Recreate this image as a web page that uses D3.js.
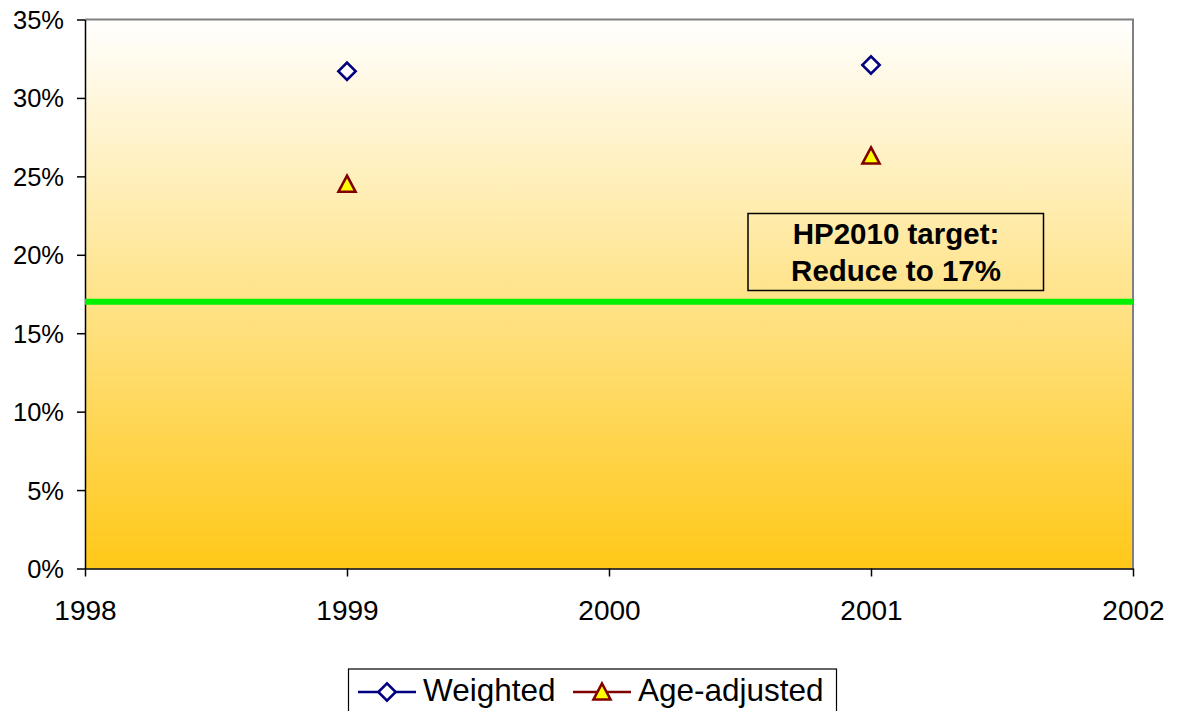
<!DOCTYPE html>
<html><head><meta charset="utf-8">
<script src="https://cdn.jsdelivr.net/npm/d3@7"></script>
<style>body{margin:0;background:#fff;}svg{display:block;font-family:"Liberation Sans",Arial,sans-serif;}</style>
</head><body>
<svg id="c" width="1178" height="711"></svg>
<script>
const years = [1999, 2001];
const weighted = [0.317, 0.321];
const ageAdjusted = [0.245, 0.263];
const target = 0.17;
const xTicks = [1998, 1999, 2000, 2001, 2002];
const yTicks = [0, 0.05, 0.10, 0.15, 0.20, 0.25, 0.30, 0.35];
const seriesNames = ["Weighted", "Age-adjusted"];
const annotationLines = ["HP2010 target:", "Reduce to 17%"];

const svg = d3.select("#c");
const L = 85, R = 1133, T = 19.5, B = 568.5;
const x = d3.scaleLinear().domain([1998, 2002]).range([L, R]);
const y = d3.scaleLinear().domain([0, 0.35]).range([B, T]);

const defs = svg.append("defs");
const g = defs.append("linearGradient").attr("id", "bg").attr("x1", 0).attr("y1", 0).attr("x2", 0).attr("y2", 1);
g.append("stop").attr("offset", "0%").attr("stop-color", "#fffffe");
g.append("stop").attr("offset", "100%").attr("stop-color", "#ffc818");

svg.append("rect").attr("x", L).attr("y", T).attr("width", R - L).attr("height", B - T).attr("fill", "url(#bg)");
svg.append("path").attr("d", `M${L},${T}H${R}V${B}`).attr("fill", "none").attr("stroke", "#808080").attr("stroke-width", 2);

// axes
const yAxis = d3.axisLeft(y).tickValues(yTicks).tickFormat(d => Math.round(d * 100) + "%").tickSize(8).tickSizeOuter(0);
const ya = svg.append("g").attr("transform", `translate(${L},0)`).call(yAxis);
ya.attr("font-size", null).attr("font-family", null);
ya.select(".domain").attr("stroke", "#000").attr("stroke-width", 1.5);
ya.selectAll(".tick line").attr("stroke", "#000").attr("stroke-width", 1.5);
ya.selectAll(".tick text").style("font-size", "25.5px").attr("fill", "#000").attr("x", -21).attr("dy", "0.35em");

const xAxis = d3.axisBottom(x).tickValues(xTicks).tickFormat(d3.format("d")).tickSize(8).tickSizeOuter(0);
const xa = svg.append("g").attr("transform", `translate(0,${B})`).call(xAxis);
xa.attr("font-size", null).attr("font-family", null);
xa.select(".domain").attr("stroke", "#000").attr("stroke-width", 1.5);
xa.selectAll(".tick line").attr("stroke", "#000").attr("stroke-width", 1.5);
xa.selectAll(".tick text").style("font-size", "28px").attr("fill", "#000").attr("y", 51).attr("dy", null);

// target line
svg.append("line").attr("x1", L).attr("x2", R).attr("y1", y(target)).attr("y2", y(target))
  .attr("stroke", "#00f000").attr("stroke-width", 6);

// annotation
svg.append("rect").attr("x", 748).attr("y", 213.5).attr("width", 295.5).attr("height", 77)
  .attr("fill", "none").attr("stroke", "#000").attr("stroke-width", 1.5);
svg.selectAll("text.ann").data(annotationLines).join("text").attr("class", "ann")
  .attr("x", 896).attr("y", (d, i) => 244 + i * 37).attr("text-anchor", "middle")
  .style("font-size", "29.5px").attr("font-weight", "bold").attr("fill", "#000").text(d => d);

const diamond = d3.symbol().type(d3.symbolSquare).size(150);
function triPath() {
  const p = d3.path();
  p.moveTo(0, -8.5); p.lineTo(8.5, 7.5); p.lineTo(-8.5, 7.5); p.closePath();
  return p.toString();
}

function drawDiamond(sel, cx, cy) {
  sel.append("path").attr("d", diamond()).attr("transform", `translate(${cx},${cy}) rotate(45)`)
    .attr("fill", "#fff").attr("stroke", "#000080").attr("stroke-width", 2.6);
}
function drawTri(sel, cx, cy) {
  sel.append("path").attr("d", triPath()).attr("transform", `translate(${cx},${cy})`)
    .attr("fill", "#ffff00").attr("stroke", "#800000").attr("stroke-width", 2.6);
}
years.forEach((yr, i) => {
  drawDiamond(svg, x(yr), y(weighted[i]));
  drawTri(svg, x(yr), y(ageAdjusted[i]));
});

// legend
svg.append("rect").attr("x", 348.5).attr("y", 669).attr("width", 488).attr("height", 50)
  .attr("fill", "#fff").attr("stroke", "#000").attr("stroke-width", 1.2);
const ly = 692;
svg.append("line").attr("x1", 358).attr("x2", 416).attr("y1", ly).attr("y2", ly).attr("stroke", "#000080").attr("stroke-width", 2.4);
drawDiamond(svg, 387, ly);
svg.append("text").attr("x", 423).attr("y", 701).style("font-size", "31.5px").attr("fill", "#000").text(seriesNames[0]);
svg.append("line").attr("x1", 573).attr("x2", 631).attr("y1", ly).attr("y2", ly).attr("stroke", "#800000").attr("stroke-width", 2.4);
drawTri(svg, 602, ly);
svg.append("text").attr("x", 638).attr("y", 701).style("font-size", "31.5px").attr("fill", "#000").text(seriesNames[1]);
</script>
</body></html>
